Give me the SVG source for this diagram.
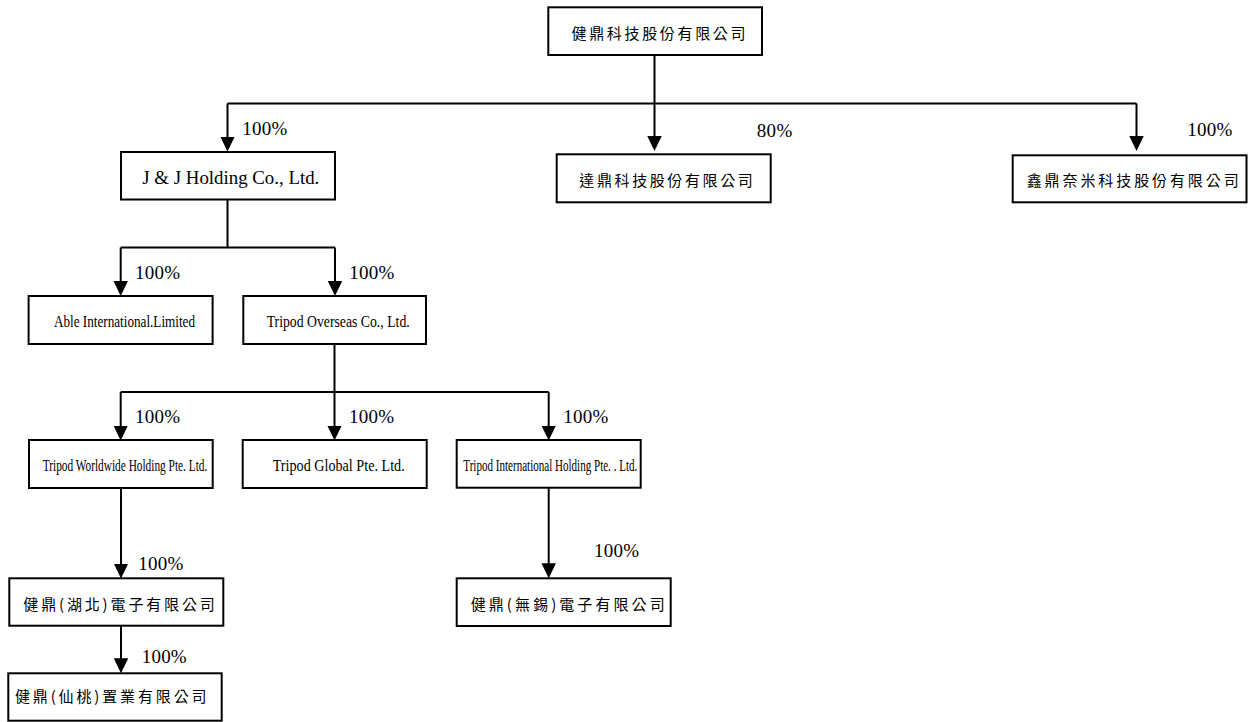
<svg xmlns="http://www.w3.org/2000/svg" width="1248" height="722" viewBox="0 0 1248 722">
<style>
.box{fill:#fff;stroke:#000;stroke-width:2}
.ln{fill:none;stroke:#000;stroke-width:2}
.arr{fill:none;stroke:#000;stroke-width:2;marker-end:url(#ah)}
.en{font-family:"Liberation Serif","Times New Roman",serif;fill:#000}
.cjk{font-family:"Noto Sans CJK TC","Noto Sans CJK SC",sans-serif;font-size:15px;fill:#000}
.pct{font-family:"Liberation Serif","Times New Roman",serif;font-size:19px;fill:#000}
</style>
<defs>
<marker id="ah" markerUnits="userSpaceOnUse" markerWidth="15" markerHeight="15" refX="11" refY="7.25" orient="auto" viewBox="0 0 15 14.5">
<path d="M0,0 L15,7.25 L0,14.5 z" fill="#000"/>
</marker>
</defs>
<rect width="1248" height="722" fill="#fff"/>

<g id="connectors">
<path class="ln" d="M654.5,55 V103.5"/>
<path class="ln" d="M227.5,103.5 H1136.5"/>
<path class="arr" d="M227.5,103.5 V147.5"/>
<path class="arr" d="M654.5,103.5 V147"/>
<path class="arr" d="M1136.5,103.5 V147"/>

<path class="ln" d="M227.5,199.5 V247.5"/>
<path class="ln" d="M120.7,247.5 H335"/>
<path class="arr" d="M120.7,247.5 V292"/>
<path class="arr" d="M335,247.5 V292"/>

<path class="ln" d="M334.5,344 V392"/>
<path class="ln" d="M120.7,392 H548.7"/>
<path class="arr" d="M120.7,392 V436.5"/>
<path class="arr" d="M334.5,392 V436.5"/>
<path class="arr" d="M548.7,392 V436.5"/>

<path class="arr" d="M121,488 V574.5"/>
<path class="arr" d="M121,626 V669.3"/>
<path class="arr" d="M548.7,488 V574.3"/>

<text class="pct" x="242.3" y="135" textLength="45">100%</text>
<text class="pct" x="756.7" y="136.7" textLength="35.6">80%</text>
<text class="pct" x="1187.3" y="136" textLength="45">100%</text>
<text class="pct" x="135" y="279" textLength="45">100%</text>
<text class="pct" x="349.3" y="279" textLength="45">100%</text>
<text class="pct" x="135" y="422.7" textLength="45">100%</text>
<text class="pct" x="349" y="422.7" textLength="45">100%</text>
<text class="pct" x="563.3" y="422.7" textLength="45">100%</text>
<text class="pct" x="138.3" y="570" textLength="45">100%</text>
<text class="pct" x="594" y="556.7" textLength="45">100%</text>
<text class="pct" x="141.7" y="662.7" textLength="45">100%</text>
</g>

<g id="node-parent">
<rect class="box" x="548.3" y="7.3" width="213.7" height="47.7"/>
<text class="cjk" x="571.5" y="39" textLength="174" lengthAdjust="spacing">健鼎科技股份有限公司</text>
</g>

<g id="node-dading">
<rect class="box" x="556.7" y="154.3" width="214" height="48"/>
<text class="cjk" x="579.3" y="186.4" textLength="173.5" lengthAdjust="spacing">達鼎科技股份有限公司</text>
</g>

<g id="node-xinding">
<rect class="box" x="1012.7" y="155.3" width="233.8" height="47"/>
<text class="cjk" x="1026.7" y="186" textLength="212" lengthAdjust="spacing">鑫鼎奈米科技股份有限公司</text>
</g>

<g id="node-jj">
<rect class="box" x="121" y="152" width="214" height="47.5"/>
<text class="en" x="142.3" y="184" font-size="18.5" textLength="177" lengthAdjust="spacingAndGlyphs">J &amp; J Holding Co., Ltd.</text>
</g>

<g id="node-able">
<rect class="box" x="28.6" y="296" width="184" height="48"/>
<text class="en" x="54" y="326.7" font-size="16" textLength="141" lengthAdjust="spacingAndGlyphs">Able International.Limited</text>
</g>

<g id="node-overseas">
<rect class="box" x="243.3" y="296" width="182.7" height="48"/>
<text class="en" x="266.7" y="327" font-size="16" textLength="143" lengthAdjust="spacingAndGlyphs">Tripod Overseas Co., Ltd.</text>
</g>

<g id="node-worldwide">
<rect class="box" x="29" y="440" width="183.7" height="48"/>
<text class="en" x="42.7" y="470.7" font-size="16" textLength="164.6" lengthAdjust="spacingAndGlyphs">Tripod Worldwide Holding Pte. Ltd.</text>
</g>

<g id="node-global">
<rect class="box" x="242.7" y="440" width="184" height="48"/>
<text class="en" x="272.7" y="470.7" font-size="16.5" textLength="132" lengthAdjust="spacingAndGlyphs">Tripod Global Pte. Ltd.</text>
</g>

<g id="node-intl">
<rect class="box" x="456.7" y="440" width="184" height="47.7"/>
<text class="en" x="463.3" y="470.7" font-size="16" textLength="174" lengthAdjust="spacingAndGlyphs">Tripod International Holding Pte. . Ltd.</text>
</g>

<g id="node-hubei">
<rect class="box" x="9.3" y="578.3" width="214" height="47.4"/>
<text class="cjk" x="23.3" y="609.7" textLength="191.5" lengthAdjust="spacing">健鼎(湖北)電子有限公司</text>
</g>

<g id="node-xiantao">
<rect class="box" x="8.3" y="673.3" width="213.4" height="47.4"/>
<text class="cjk" x="15" y="701.7" textLength="191.5" lengthAdjust="spacing">健鼎(仙桃)置業有限公司</text>
</g>

<g id="node-wuxi">
<rect class="box" x="456.7" y="578.3" width="214" height="47.7"/>
<text class="cjk" x="470.7" y="609.5" textLength="194" lengthAdjust="spacing">健鼎(無錫)電子有限公司</text>
</g>
</svg>
